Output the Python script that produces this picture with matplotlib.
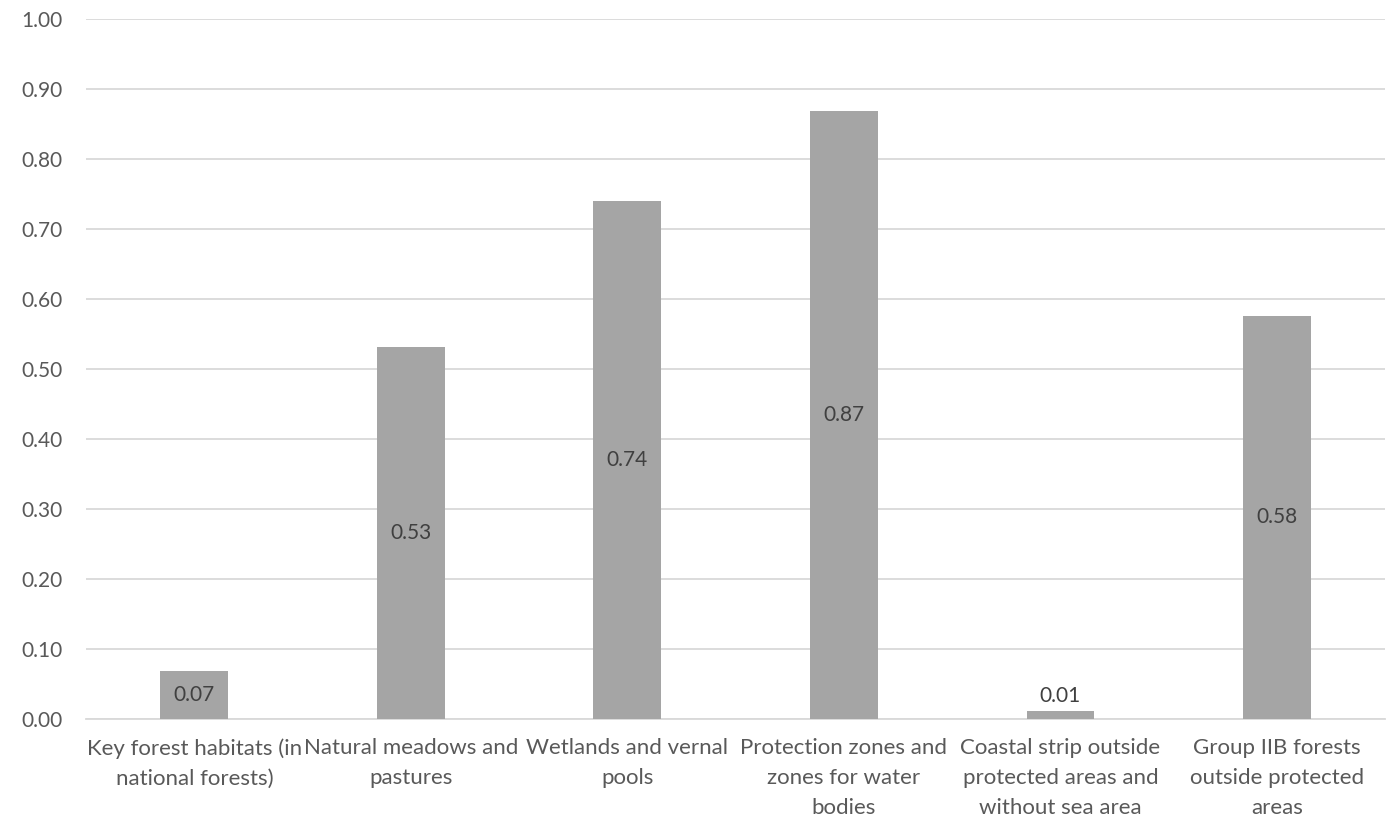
import matplotlib
matplotlib.use("Agg")
import matplotlib.pyplot as plt
import numpy as np

plt.rcParams['font.family'] = ['Lato', 'DejaVu Sans']

# data
categories = [
    "Key forest habitats (in\nnational forests)",
    "Natural meadows and\npastures",
    "Wetlands and vernal\npools",
    "Protection zones and\nzones for water\nbodies",
    "Coastal strip outside\nprotected areas and\nwithout sea area",
    "Group IIB forests\noutside protected\nareas",
]
values = [0.069, 0.531, 0.740, 0.868, 0.011, 0.576]
yticks = np.arange(0, 1.01, 0.1)

text_col = "#595959"
bar_col = "#A5A5A5"
grid_col = "#D9D9D9"

fig = plt.figure(figsize=(13.88, 8.19), dpi=100)
ax = fig.add_axes([0.062, 0.1221, 0.936, 0.8547])

x = np.arange(len(categories))
ax.bar(x, values, width=0.313, color=bar_col, zorder=3)

for xi, v in zip(x, values):
    if v < 0.05:
        ax.text(xi, v + 0.008, f"{v:.2f}", ha="center", va="bottom",
                fontsize=15, color="#404040", zorder=4)
    else:
        ax.text(xi, v / 2, f"{v:.2f}", ha="center", va="center",
                fontsize=15, color="#404040", zorder=4)

ax.set_xlim(-0.5, len(categories) - 0.5)
ax.set_ylim(0, 1.0)
ax.set_yticks(yticks)
ax.set_yticklabels([f"{t:.2f}" for t in yticks], fontsize=15)
ax.yaxis.grid(True, color=grid_col, linewidth=1.3, zorder=0)
ax.set_xticks(x)
ax.set_xticklabels(categories, linespacing=1.6, fontsize=16)
ax.tick_params(axis="both", length=0, colors=text_col)
ax.tick_params(axis="y", pad=17)
ax.tick_params(axis="x", pad=14)
for s in ["top", "right", "left"]:
    ax.spines[s].set_visible(False)
ax.spines["bottom"].set_color(grid_col)
ax.spines["bottom"].set_linewidth(1.3)

fig.savefig("out.png", dpi=100)
